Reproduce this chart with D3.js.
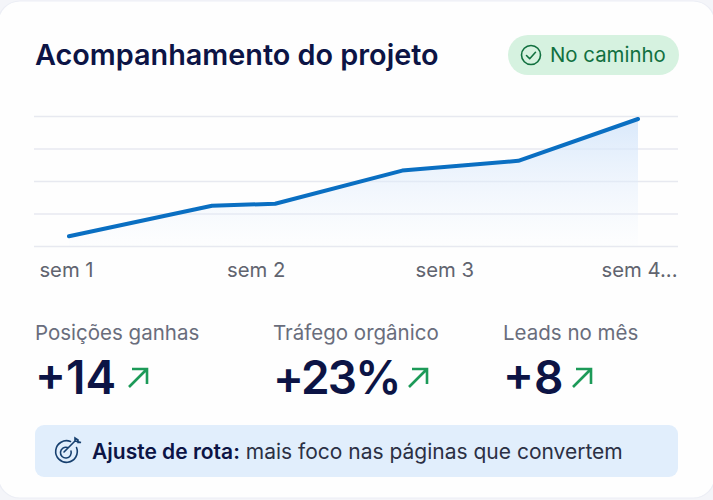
<!DOCTYPE html>
<html>
<head>
<meta charset="utf-8">
<script src="https://cdn.jsdelivr.net/npm/d3@7"></script>
<style>
html, body { margin: 0; padding: 0; background: #fff; }
svg { display: block; font-family: Inter, sans-serif; }
</style>
</head>
<body>
<svg id="chart" width="713" height="500"></svg>
<script>
// weeks on the x axis, score on the y axis
const pointWeeks = [1, 1.754, 2.087, 2.757, 3.369, 4]
const pointValues = [7.5, 31, 32.5, 58, 65.5, 97.7]
const weekTicks = [1, 2, 3, 4]
const weekLabels = ['sem 1', 'sem 2', 'sem 3', 'sem 4...']
const gridValues = [0, 25, 50, 75, 100]

const metricLabels = ['Posições ganhas', 'Tráfego orgânico', 'Leads no mês']
const metricValues = ['+14', '+23%', '+8']

const svg = d3.select('#chart')
const defs = svg.append('defs')

const grad = defs.append('linearGradient')
    .attr('id', 'areaFill')
    .attr('x1', 0).attr('x2', 0).attr('y1', 0).attr('y2', 1)
grad.append('stop').attr('offset', '0%').attr('stop-color', '#d3e5fa').attr('stop-opacity', 0.85)
grad.append('stop').attr('offset', '100%').attr('stop-color', '#e8f1fd').attr('stop-opacity', 0.05)

// card
svg.append('rect').attr('width', 713).attr('height', 500).attr('fill', '#f4f5f9')
svg.append('rect')
    .attr('x', -2).attr('y', 1)
    .attr('width', 717).attr('height', 497)
    .attr('rx', 22)
    .attr('fill', '#fefefe')
    .attr('stroke', '#eceef5')
    .attr('stroke-width', 1.2)

// header
svg.append('text')
    .attr('x', 35).attr('y', 65)
    .attr('font-size', 28.8).attr('font-weight', 600)
    .attr('fill', '#0c1445')
    .text('Acompanhamento do projeto')

const pill = svg.append('g')
pill.append('rect')
    .attr('x', 508).attr('y', 35)
    .attr('width', 171).attr('height', 40)
    .attr('rx', 20)
    .attr('fill', '#d6f2e0')
pill.append('circle')
    .attr('cx', 531).attr('cy', 55).attr('r', 9.5)
    .attr('fill', 'none').attr('stroke', '#11703f').attr('stroke-width', 1.6)
pill.append('path')
    .attr('d', 'M526.5 55.5l3.2 3.2 5.8-6.4')
    .attr('fill', 'none').attr('stroke', '#11703f').attr('stroke-width', 1.6)
    .attr('stroke-linecap', 'round').attr('stroke-linejoin', 'round')
pill.append('text')
    .attr('x', 550).attr('y', 62)
    .attr('font-size', 20.4).attr('fill', '#11703f')
    .text('No caminho')

// scales
const x = d3.scaleLinear().domain([1, 4]).range([69, 638])
const y = d3.scaleLinear().domain([0, 100]).range([246, 116])

// grid
const gridAxis = d3.axisLeft(y).tickValues(gridValues).tickSize(-644).tickFormat('')
const gridG = svg.append('g')
    .attr('transform', 'translate(34,0)')
    .call(gridAxis)
gridG.select('.domain').remove()
gridG.selectAll('line').attr('stroke', '#e7e9f0').attr('stroke-width', 1.3)

// area + line
const data = pointWeeks.map((w, i) => ({ week: w, value: pointValues[i] }))

svg.append('path')
    .datum(data)
    .attr('fill', 'url(#areaFill)')
    .attr('d', d3.area().x(d => x(d.week)).y0(y(0)).y1(d => y(d.value)))

svg.append('path')
    .datum(data)
    .attr('fill', 'none')
    .attr('stroke', '#0a6fc2')
    .attr('stroke-width', 4)
    .attr('stroke-linecap', 'round')
    .attr('stroke-linejoin', 'round')
    .attr('d', d3.line().x(d => x(d.week)).y(d => y(d.value)))

// x labels
const xAxis = d3.axisBottom(x)
    .tickValues(weekTicks)
    .tickSize(0)
    .tickPadding(0)
    .tickFormat((d, i) => weekLabels[i])
const xG = svg.append('g').attr('transform', 'translate(0,263)').call(xAxis)
xG.select('.domain').remove()
xG.selectAll('text')
    .attr('font-size', 20.3)
    .attr('font-family', 'Inter, sans-serif')
    .attr('fill', '#61646f')
    .attr('dx', (d, i) => [-3, -3, -4, 1][i])

// metrics
const metricX = [35, 273, 503]
const arrowX = [128, 408, 572]
const valueSpacing = [0, -1.8, 0]
const metrics = svg.selectAll('.metric')
    .data(metricLabels)
    .enter()
    .append('g')
    .classed('metric', true)

metrics.append('text')
    .attr('x', (d, i) => metricX[i]).attr('y', 340)
    .attr('font-size', 20.5)
    .attr('fill', '#696d7c')
    .text(d => d)

metrics.append('text')
    .attr('x', (d, i) => metricX[i]).attr('y', 393.5)
    .attr('font-size', 46).attr('font-weight', 600)
    .attr('letter-spacing', (d, i) => valueSpacing[i])
    .attr('fill', '#0c1445')
    .text((d, i) => metricValues[i])

metrics.append('path')
    .attr('transform', (d, i) => `translate(${arrowX[i]},368)`)
    .attr('d', 'M1 19L19 1M4 1H19V16')
    .attr('fill', 'none')
    .attr('stroke', '#1c9a58')
    .attr('stroke-width', 2.6)

// note
svg.append('rect')
    .attr('x', 35).attr('y', 425)
    .attr('width', 643).attr('height', 52)
    .attr('rx', 9)
    .attr('fill', '#e1eefc')

const icon = svg.append('g')
    .attr('fill', 'none')
    .attr('stroke', '#17406f')
    .attr('stroke-width', 1.6)
    .attr('stroke-linecap', 'round')
icon.append('path').attr('d', 'M70.5 441.5A10.8 10.8 0 1 0 76.5 447.5')
icon.append('path').attr('d', 'M67.5 447.5A5.4 5.4 0 1 0 71 451')
icon.append('path').attr('d', 'M64 452L75 441M75 441V438L78 440V442.5H81L75 441')

const note = svg.append('text')
    .attr('x', 92).attr('y', 458.5)
    .attr('font-size', 21)
    .attr('fill', '#2b3044')
note.append('tspan').attr('font-weight', 600).attr('fill', '#0c1445').text('Ajuste de rota:')
note.append('tspan').text(' mais foco nas páginas que convertem')
</script>
</body>
</html>
